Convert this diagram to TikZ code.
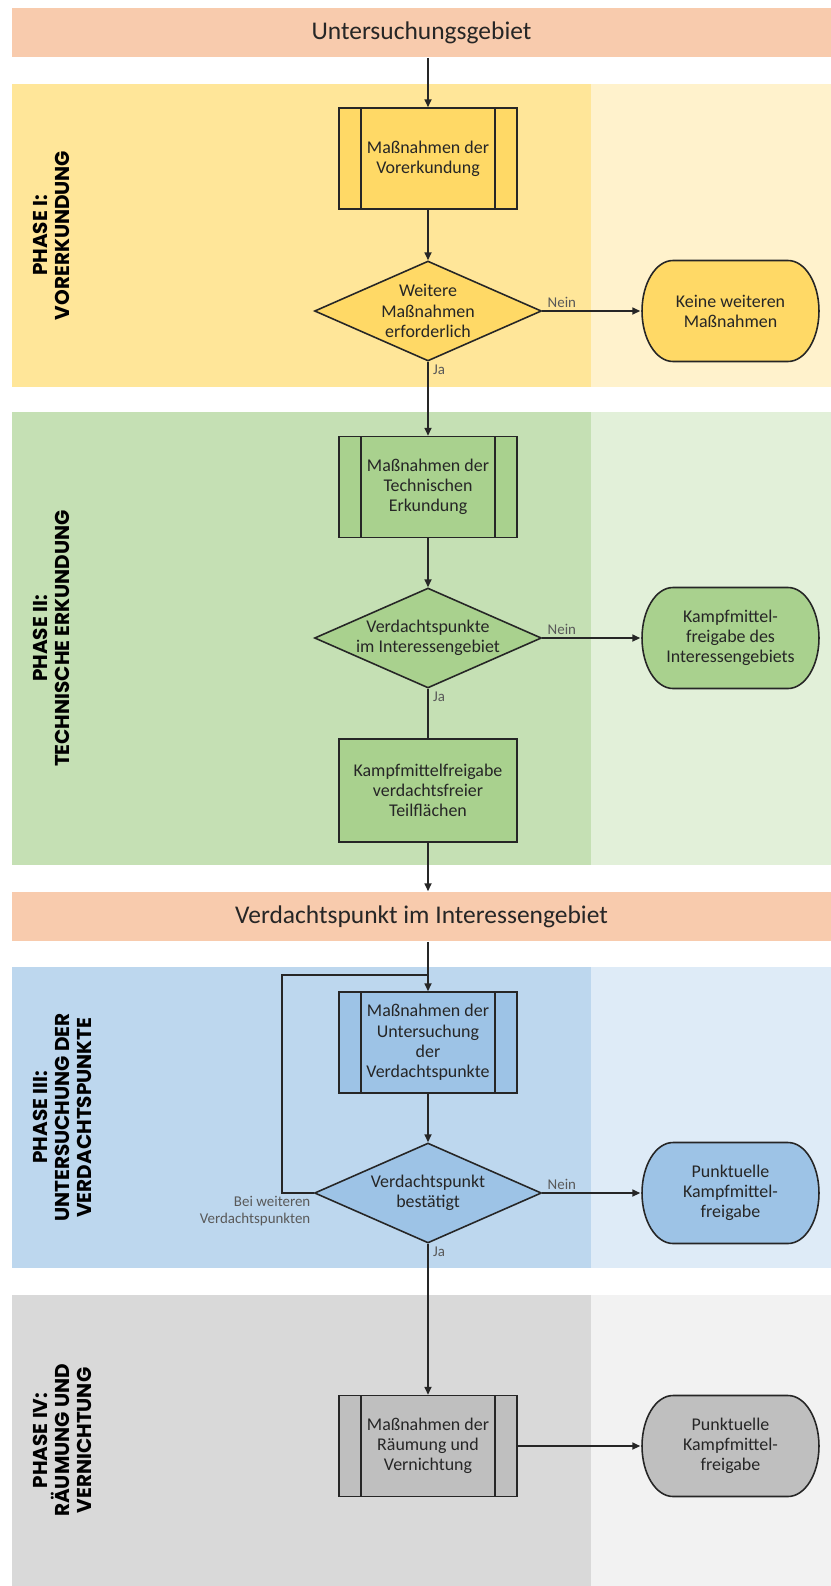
\documentclass[tikz,border=0pt]{standalone}
\usepackage{fontspec}
\setmainfont{Carlito}
\newfontfamily\phasefont{Poppins}
\usetikzlibrary{arrows.meta,positioning,calc,shapes.geometric}

\definecolor{hdrfill}{HTML}{F8CBAD}
\definecolor{yelDark}{HTML}{FFE699}
\definecolor{yelLight}{HTML}{FFF2CC}
\definecolor{yelBox}{HTML}{FFD966}
\definecolor{grnDark}{HTML}{C5E0B4}
\definecolor{grnLight}{HTML}{E2F0D9}
\definecolor{grnBox}{HTML}{A9D18E}
\definecolor{bluDark}{HTML}{BDD7EE}
\definecolor{bluLight}{HTML}{DEEBF7}
\definecolor{bluBox}{HTML}{9DC3E6}
\definecolor{gryDark}{HTML}{D9D9D9}
\definecolor{gryLight}{HTML}{F2F2F2}
\definecolor{gryBox}{HTML}{BFBFBF}
\definecolor{ink}{HTML}{262626}

\begin{document}
\begin{tikzpicture}[
    x=0.02cm, y=-0.02cm, color=ink, line width=0.9pt,
    hdr/.style={rectangle, fill=hdrfill, minimum width=16.38cm, minimum height=0.98cm, font=\fontsize{14.5}{16}\selectfont},
    txt/.style={align=center, font=\fontsize{10.2}{11.5}\selectfont},
    subbox/.style={txt, rectangle, draw, fill=#1, minimum width=3.56cm, minimum height=2.02cm, inner sep=0pt,
        path picture={\draw[line width=0.9pt] ([xshift=0.44cm]path picture bounding box.north west) -- ([xshift=0.44cm]path picture bounding box.south west)
            ([xshift=-0.44cm]path picture bounding box.north east) -- ([xshift=-0.44cm]path picture bounding box.south east);}},
    plainbox/.style={txt, rectangle, draw, fill=#1, minimum width=3.56cm, minimum height=2.06cm, inner sep=0pt},
    decision/.style={txt, diamond, draw, fill=#1, aspect=2.27, minimum width=4.54cm, minimum height=2cm, inner sep=0pt},
    endbox/.style={txt, rectangle, minimum width=3.58cm, minimum height=2.06cm, inner sep=0pt,
        path picture={\draw[line width=0.9pt, fill=#1]
            ([shift={(0.64cm,-0.02cm)}]path picture bounding box.north west)
            -- ([shift={(-0.64cm,-0.02cm)}]path picture bounding box.north east)
            arc[start angle=90, end angle=-90, x radius=0.62cm, y radius=1.01cm]
            -- ([shift={(0.64cm,0.02cm)}]path picture bounding box.south west)
            arc[start angle=270, end angle=90, x radius=0.62cm, y radius=1.01cm] -- cycle;}},
    phase/.style={rotate=90, anchor=north, align=center, inner sep=0pt, text=black, font=\phasefont\bfseries\fontsize{11.4}{12.6}\selectfont},
    lbl/.style={text=black!65, font=\fontsize{8.5}{9.5}\selectfont, inner sep=1.5pt},
    arr/.style={-{Triangle[length=4.5pt,width=4pt]}},
]
    \useasboundingbox (0,0) rectangle (831,1586);

    \fill[yelDark] (12,84) rectangle (591,387);
    \fill[yelLight] (591,84) rectangle (831,387);
    \fill[grnDark] (12,412) rectangle (591,865);
    \fill[grnLight] (591,412) rectangle (831,865);
    \fill[bluDark] (12,967) rectangle (591,1268);
    \fill[bluLight] (591,967) rectangle (831,1268);
    \fill[gryDark] (12,1295) rectangle (591,1586);
    \fill[gryLight] (591,1295) rectangle (831,1586);

    \node[phase] (ph1) at (32,235.5) {PHASE I:\\VORERKUNDUNG};
    \node[phase] (ph2) at (32,638.5) {PHASE II:\\TECHNISCHE ERKUNDUNG};
    \node[phase] (ph3) at (32,1117.5) {PHASE III:\\UNTERSUCHUNG DER\\VERDACHTSPUNKTE};
    \node[phase] (ph4) at (32,1440.5) {PHASE IV:\\RÄUMUNG UND\\VERNICHTUNG};

    \node[hdr] (hdr1) at (421.5,32.5) {Untersuchungsgebiet};
    \node[subbox=yelBox] (box1) at (428,158.5) {Maßnahmen der\\Vorerkundung};
    \node[decision=yelBox] (dec1) at (428,311) {Weitere\\Maßnahmen\\erforderlich};
    \node[endbox=yelBox] (end1) at (730.5,311) {Keine weiteren\\Maßnahmen};

    \node[subbox=grnBox] (box2) at (428,487) {Maßnahmen der\\Technischen\\Erkundung};
    \node[decision=grnBox] (dec2) at (428,638) {Verdachtspunkte\\im Interessengebiet};
    \node[endbox=grnBox] (end2) at (730.5,638) {Kampfmittel-\\freigabe des\\Interessengebiets};
    \node[plainbox=grnBox] (box3) at (428,790.5) {Kampfmittelfreigabe\\verdachtsfreier\\Teilflächen};

    \node[hdr] (hdr2) at (421.5,916.5) {Verdachtspunkt im Interessengebiet};
    \node[subbox=bluBox] (box4) at (428,1042.5) {Maßnahmen der\\Untersuchung\\der\\Verdachtspunkte};
    \node[decision=bluBox] (dec3) at (428,1193) {Verdachtspunkt\\bestätigt};
    \node[endbox=bluBox] (end3) at (730.5,1193) {Punktuelle\\Kampfmittel-\\freigabe};
    \coordinate (loop) at (282,975);

    \node[subbox=gryBox] (box5) at (428,1446) {Maßnahmen der\\Räumung und\\Vernichtung};
    \node[endbox=gryBox] (end4) at (730.5,1446) {Punktuelle\\Kampfmittel-\\freigabe};

    \draw[arr] (box1 |- hdr1.south) -- (box1);
    \draw[arr] (box1) -- (dec1);
    \draw[arr] (dec1) -- node[lbl, pos=0.2, above] {Nein} (end1);
    \draw[arr] (dec1) -- node[lbl, pos=0, anchor=north west, xshift=1pt] {Ja} (box2);
    \draw[arr] (box2) -- (dec2);
    \draw[arr] (dec2) -- node[lbl, pos=0.2, above] {Nein} (end2);
    \draw (dec2) -- node[lbl, pos=0, anchor=north west, xshift=1pt] {Ja} (box3);
    \draw[arr] (box3) -- (box3 |- hdr2.north);
    \draw[arr] (box4 |- hdr2.south) -- (box4);
    \draw[arr] (box4) -- (dec3);
    \draw[arr] (dec3) -- node[lbl, pos=0.2, above] {Nein} (end3);
    \draw (dec3.west) -| node[lbl, pos=0, anchor=north east, align=right] {Bei weiteren\\Verdachtspunkten} (loop) -- (loop -| box4);
    \draw[arr] (dec3) -- node[lbl, pos=0, anchor=north west, xshift=1pt] {Ja} (box5);
    \draw[arr] (box5) -- (end4);
\end{tikzpicture}
\end{document}
